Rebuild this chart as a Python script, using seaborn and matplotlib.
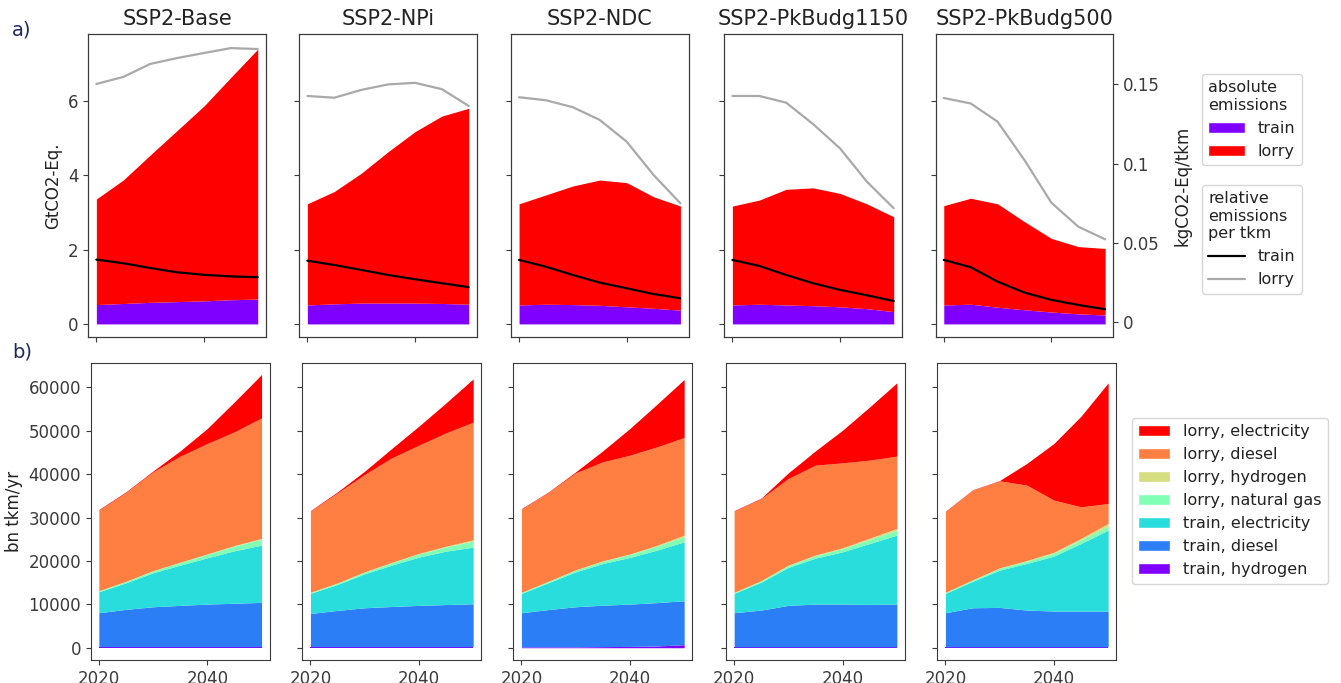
import numpy as np
import matplotlib
matplotlib.use("Agg")
import matplotlib.pyplot as plt
import seaborn as sns
from matplotlib.patches import Patch
from matplotlib.lines import Line2D

# ---------------- data ----------------
years = [2020, 2025, 2030, 2035, 2040, 2045, 2050]
scenarios = ["SSP2-Base", "SSP2-NPi", "SSP2-NDC", "SSP2-PkBudg1150", "SSP2-PkBudg500"]

# absolute emissions (GtCO2-Eq.)
train_abs = {
    "SSP2-Base":       [0.52, 0.55, 0.58, 0.60, 0.62, 0.65, 0.67],
    "SSP2-NPi":        [0.51, 0.54, 0.56, 0.56, 0.56, 0.55, 0.53],
    "SSP2-NDC":        [0.51, 0.53, 0.52, 0.50, 0.46, 0.42, 0.37],
    "SSP2-PkBudg1150": [0.51, 0.53, 0.51, 0.49, 0.46, 0.41, 0.33],
    "SSP2-PkBudg500":  [0.51, 0.53, 0.45, 0.38, 0.32, 0.27, 0.24],
}
lorry_abs = {
    "SSP2-Base":       [2.84, 3.32, 3.96, 4.60, 5.24, 5.98, 6.72],
    "SSP2-NPi":        [2.72, 3.02, 3.49, 4.07, 4.61, 5.04, 5.27],
    "SSP2-NDC":        [2.72, 2.94, 3.19, 3.37, 3.34, 3.00, 2.80],
    "SSP2-PkBudg1150": [2.66, 2.80, 3.11, 3.17, 3.05, 2.82, 2.55],
    "SSP2-PkBudg500":  [2.67, 2.85, 2.78, 2.37, 1.98, 1.81, 1.79],
}
# relative emissions per tkm (kgCO2-Eq/tkm)
train_rel = {
    "SSP2-Base":       [0.0395, 0.0372, 0.0342, 0.0315, 0.0299, 0.0289, 0.0284],
    "SSP2-NPi":        [0.0388, 0.0361, 0.0330, 0.0298, 0.0271, 0.0246, 0.0221],
    "SSP2-NDC":        [0.0393, 0.0350, 0.0298, 0.0250, 0.0214, 0.0178, 0.0151],
    "SSP2-PkBudg1150": [0.0393, 0.0355, 0.0298, 0.0246, 0.0204, 0.0170, 0.0134],
    "SSP2-PkBudg500":  [0.0393, 0.0347, 0.0256, 0.0187, 0.0141, 0.0109, 0.0082],
}
lorry_rel = {
    "SSP2-Base":       [0.1503, 0.1547, 0.1629, 0.1666, 0.1698, 0.1729, 0.1723],
    "SSP2-NPi":        [0.1427, 0.1416, 0.1465, 0.1500, 0.1510, 0.1470, 0.1364],
    "SSP2-NDC":        [0.1419, 0.1400, 0.1356, 0.1276, 0.1139, 0.0929, 0.0750],
    "SSP2-PkBudg1150": [0.1427, 0.1427, 0.1385, 0.1250, 0.1097, 0.0887, 0.0719],
    "SSP2-PkBudg500":  [0.1414, 0.1380, 0.1265, 0.1023, 0.0754, 0.0603, 0.0523],
}

# transport demand (bn tkm/yr), stacked from bottom
modes = ["train, hydrogen", "train, diesel", "train, electricity",
         "lorry, natural gas", "lorry, hydrogen", "lorry, diesel", "lorry, electricity"]
demand = {
    "SSP2-Base": [
        [250, 250, 250, 250, 250, 250, 250],
        [7810, 8590, 9190, 9510, 9810, 10000, 10200],
        [4840, 6130, 7830, 9290, 10670, 12090, 13200],
        [200, 300, 450, 600, 800, 1100, 1400],
        [50, 50, 60, 80, 100, 120, 150],
        [18550, 20470, 22760, 24420, 25440, 26190, 27770],
        [150, 150, 200, 1220, 3460, 6910, 9990],
    ],
    "SSP2-NPi": [
        [250, 250, 250, 250, 250, 250, 250],
        [7650, 8350, 8960, 9250, 9510, 9700, 9880],
        [4630, 6000, 7830, 9550, 11130, 12320, 13060],
        [200, 300, 400, 550, 750, 1000, 1400],
        [50, 50, 60, 80, 100, 130, 280],
        [18700, 20750, 22430, 24080, 24940, 26110, 27110],
        [120, 230, 760, 2160, 4380, 6910, 9970],
    ],
    "SSP2-NDC": [
        [200, 200, 200, 250, 300, 400, 700],
        [7860, 8600, 9240, 9550, 9760, 10000, 10120],
        [4470, 6200, 8060, 9600, 10760, 12100, 13590],
        [200, 300, 400, 550, 700, 950, 1200],
        [50, 50, 60, 80, 100, 150, 350],
        [19160, 20450, 22340, 22810, 22760, 22690, 22490],
        [120, 120, 230, 2530, 6150, 9830, 13360],
    ],
    "SSP2-PkBudg1150": [
        [200, 200, 200, 200, 200, 200, 200],
        [7860, 8480, 9560, 9860, 9860, 9790, 9860],
        [4470, 6450, 8760, 10600, 12050, 14050, 15900],
        [200, 300, 450, 600, 750, 950, 1100],
        [50, 60, 80, 120, 180, 280, 440],
        [18700, 18910, 19960, 20700, 19570, 17960, 16650],
        [120, 100, 1290, 3290, 7530, 12270, 16890],
    ],
    "SSP2-PkBudg500": [
        [200, 200, 200, 200, 200, 200, 200],
        [7860, 9010, 9090, 8480, 8250, 8250, 8250],
        [4470, 6080, 8600, 10750, 12670, 15590, 18650],
        [200, 300, 450, 550, 700, 850, 1000],
        [50, 60, 80, 120, 200, 330, 550],
        [18550, 20670, 20040, 17370, 11990, 7250, 4600],
        [120, 80, 80, 5000, 13060, 20890, 27790],
    ],
}

# ---------------- style ----------------
sns.set_style("ticks", {"axes.edgecolor": "#3a3a3a", "xtick.color": "#3a3a3a",
                        "ytick.color": "#3a3a3a"})
plt.rcParams["font.family"] = ["DejaVu Sans"]
plt.rcParams["text.color"] = "#222222"
plt.rcParams["axes.labelcolor"] = "#222222"

cmap = plt.get_cmap("rainbow")
mode_colors = [cmap(v) for v in np.linspace(0, 1, 7)]
c_train = cmap(0.0)
c_lorry = cmap(1.0)
c_gray = "#a9a9a9"

W, H = 1341, 683
fig = plt.figure(figsize=(W / 100, H / 100), dpi=100)

top_lefts = [88.3, 299.3, 511.0, 724.3, 935.7]
bot_lefts = [90.7, 302.3, 513.3, 726.0, 937.3]

TICK_FS = 12
for i, sc in enumerate(scenarios):
    # ---- top row ----
    ax = fig.add_axes([top_lefts[i] / W, 1 - 337.3 / H, 177.5 / W, 303 / H])
    ax.stackplot(years, train_abs[sc], lorry_abs[sc], colors=[c_train, c_lorry], linewidth=0)
    ax.set_xlim(2018.5, 2051.5)
    ax.set_ylim(-0.36, 7.79)
    ax.set_xticks([2020, 2040])
    ax.set_xticklabels([])
    ax.set_yticks([0, 2, 4, 6])
    ax.tick_params(labelsize=TICK_FS)
    if i == 0:
        ax.set_ylabel("GtCO2-Eq.", fontsize=12)
    else:
        ax.set_yticklabels([])
    ax.set_title(sc, fontsize=15, pad=7)

    ax2 = ax.twinx()
    sns.lineplot(x=years, y=train_rel[sc], ax=ax2, color="black", linewidth=1.6)
    sns.lineplot(x=years, y=lorry_rel[sc], ax=ax2, color=c_gray, linewidth=1.6)
    ax2.set_ylim(-0.0095, 0.1816)
    ax2.set_xlim(2018.5, 2051.5)
    if i == len(scenarios) - 1:
        ax2.set_yticks([0, 0.05, 0.1, 0.15])
        ax2.set_yticklabels(["0", "0.05", "0.1", "0.15"])
        ax2.tick_params(labelsize=TICK_FS)
        ax2.set_ylabel("kgCO2-Eq/tkm", fontsize=12, labelpad=10)
    else:
        ax2.set_yticks([])
        ax2.set_ylabel("")

    # ---- bottom row ----
    bx = fig.add_axes([bot_lefts[i] / W, 1 - 660 / H, 179 / W, 297.5 / H])
    bx.stackplot(years, *demand[sc], colors=mode_colors, linewidth=0)
    bx.set_xlim(2018.5, 2051.5)
    bx.set_ylim(-2830, 65730)
    bx.set_xticks([2020, 2040])
    bx.set_yticks(np.arange(0, 60001, 10000))
    bx.tick_params(labelsize=TICK_FS)
    if i == 0:
        bx.set_ylabel("bn tkm/yr", fontsize=12)
    else:
        bx.set_yticklabels([])

# ---------------- legends ----------------
LEG_FS = 11.5
h1 = [Patch(facecolor=c_train, label="train"), Patch(facecolor=c_lorry, label="lorry")]
fig.legend(handles=h1, title="absolute\nemissions", loc="upper left",
           bbox_to_anchor=(1202 / W, 1 - 74 / H), bbox_transform=fig.transFigure,
           borderaxespad=0, fontsize=LEG_FS, title_fontsize=LEG_FS, alignment="left",
           handlelength=2.3)
h2 = [Line2D([], [], color="black", lw=1.6, label="train"),
      Line2D([], [], color=c_gray, lw=1.6, label="lorry")]
fig.legend(handles=h2, title="relative\nemissions\nper tkm", loc="upper left",
           bbox_to_anchor=(1202 / W, 1 - 185 / H), bbox_transform=fig.transFigure,
           borderaxespad=0, fontsize=LEG_FS, title_fontsize=LEG_FS, alignment="left",
           handlelength=2.3)
h3 = [Patch(facecolor=mode_colors[k], label=modes[k]) for k in range(6, -1, -1)]
fig.legend(handles=h3, loc="upper left",
           bbox_to_anchor=(1132 / W, 1 - 418 / H), bbox_transform=fig.transFigure,
           borderaxespad=0, fontsize=LEG_FS)

# panel letters
fig.text(22 / W, 1 - 30 / H, "a)", fontsize=14, color="#1c2b5a", ha="center", va="center")
fig.text(22 / W, 1 - 352 / H, "b)", fontsize=14, color="#1c2b5a", ha="center", va="center")

fig.savefig("out.png", dpi=100)
